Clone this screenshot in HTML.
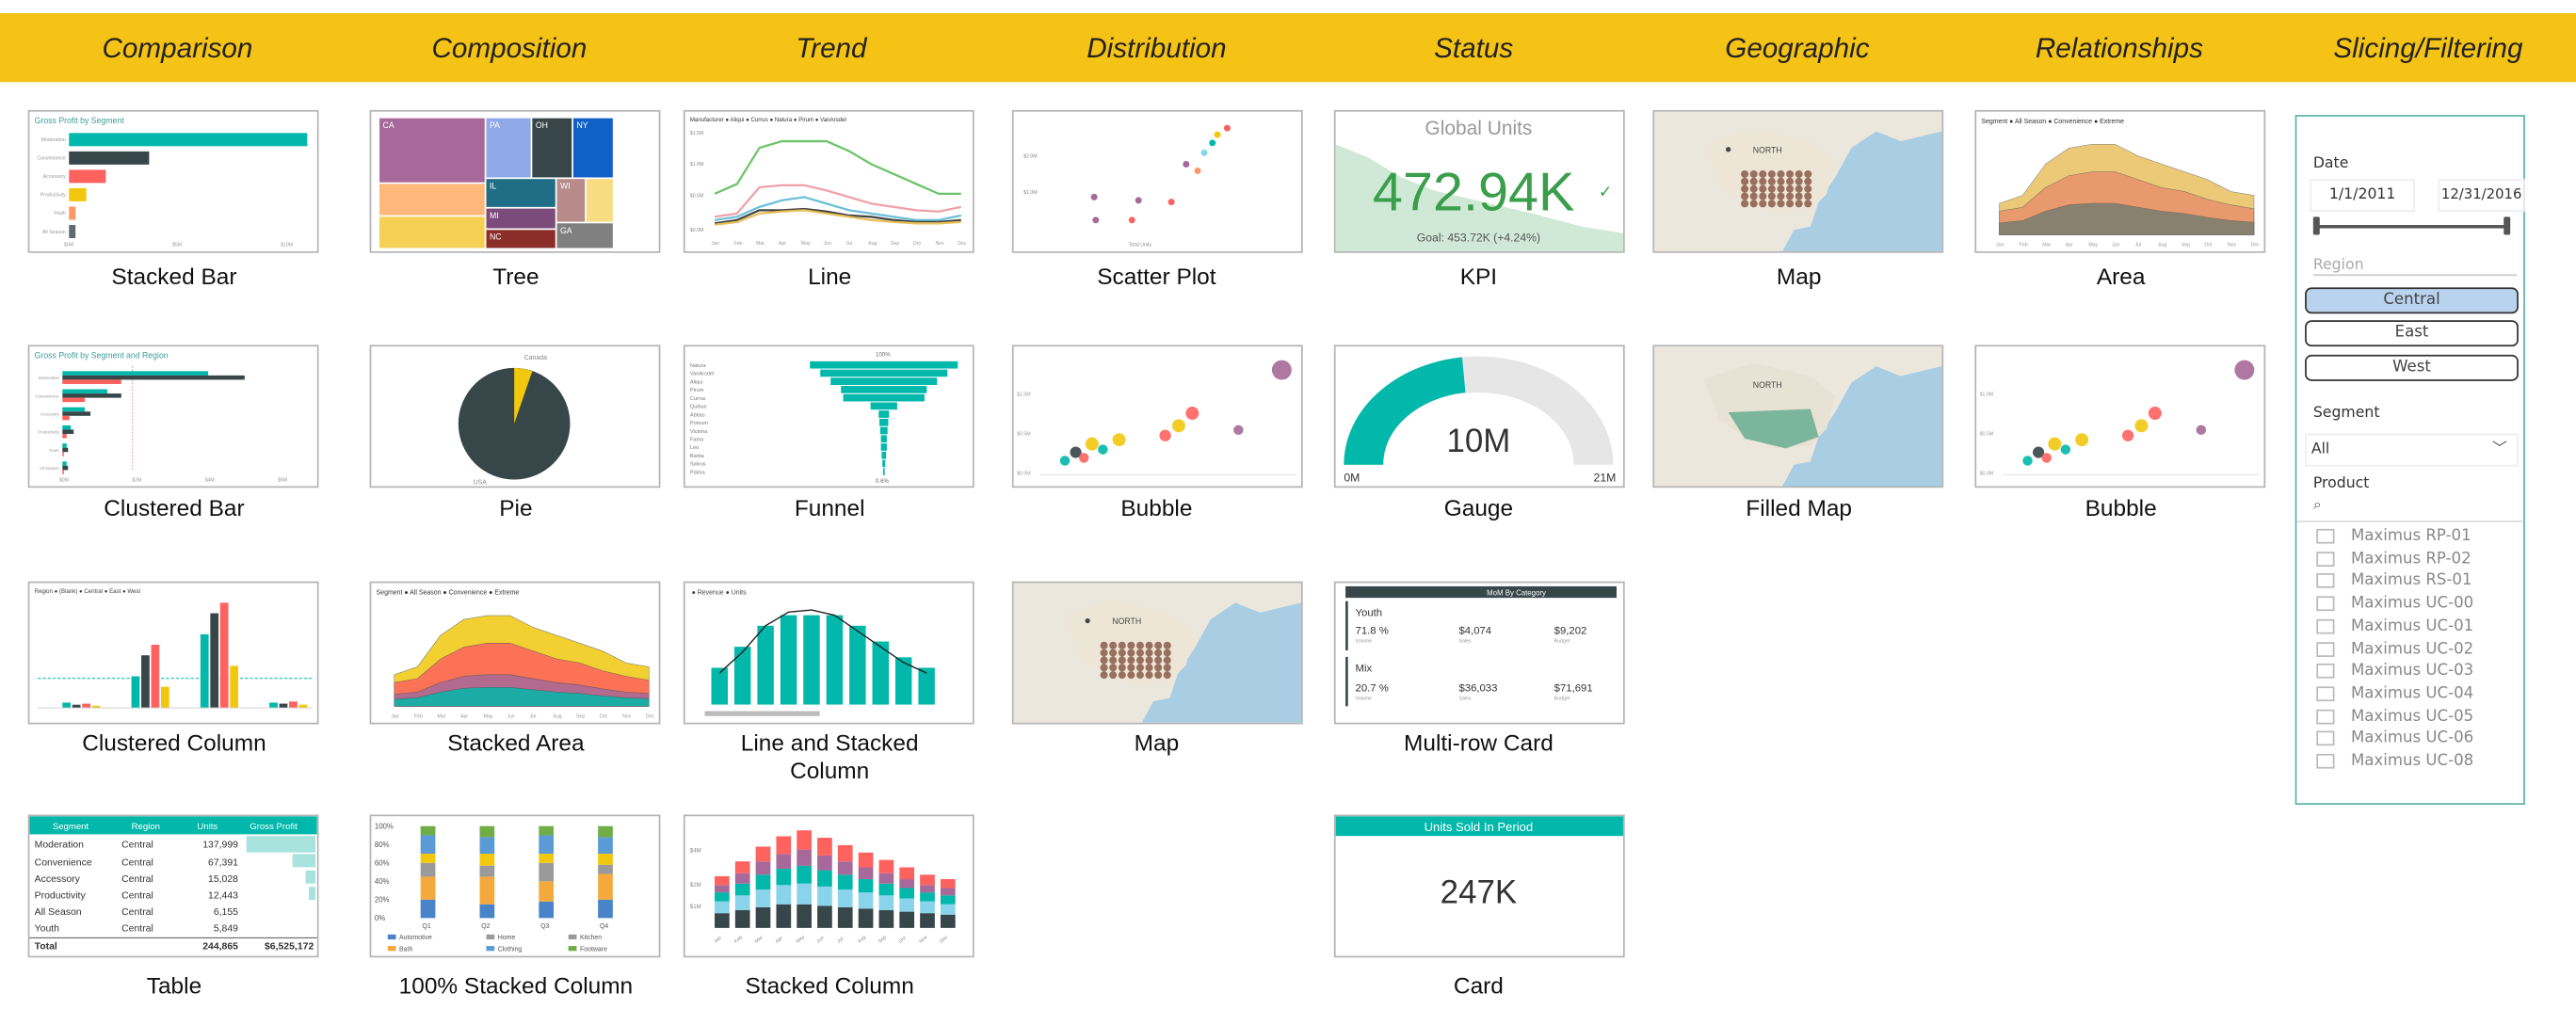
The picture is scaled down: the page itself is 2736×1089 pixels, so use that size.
<!DOCTYPE html>
<html><head><meta charset="utf-8">
<style>
html,body{margin:0;padding:0;background:#fff;}
body{width:2736px;height:1089px;overflow:hidden;position:relative;font-family:"Liberation Sans","DejaVu Sans",sans-serif;}
#stage{position:absolute;left:0;top:0;width:1568px;height:624px;transform:scale(1.7449);transform-origin:0 0;}
.hdr{position:absolute;left:0;top:8px;width:1568px;height:42px;background:#F5C316;}
.ht{position:absolute;top:8px;height:42px;line-height:44px;font-style:italic;font-size:17px;color:#222;transform:translateX(-50%);white-space:nowrap;}
.th{position:absolute;width:175px;height:85px;border:1.5px solid #b5b5b5;background:#fff;box-sizing:content-box;}
.th svg{display:block;width:175px;height:85px;}
.lb{position:absolute;font-size:14px;color:#111;transform:translateX(-50%);white-space:nowrap;text-align:center;line-height:17px;}
#slicer{position:absolute;left:1397px;top:70px;width:140px;height:420px;border:1.5px solid #5fb3a8;box-sizing:border-box;background:#fff;font-family:"DejaVu Sans",sans-serif;}
#slicer .t{position:absolute;font-size:9px;color:#333;}
.btn{position:absolute;left:5px;width:128px;height:14px;border:1.2px solid #333;border-radius:4px;font-size:9.5px;color:#444;text-align:center;line-height:14px;}
.it{position:absolute;left:12px;font-size:9.5px;color:#888;white-space:nowrap;}
.it i{display:inline-block;width:9px;height:7px;border:1px solid #bbb;margin-right:10px;vertical-align:middle;}
</style></head>
<body>
<div id="stage">
<div class="hdr"></div>
<div class="ht" style="left:108px">Comparison</div>
<div class="ht" style="left:310px">Composition</div>
<div class="ht" style="left:506px">Trend</div>
<div class="ht" style="left:704px">Distribution</div>
<div class="ht" style="left:897px">Status</div>
<div class="ht" style="left:1094px">Geographic</div>
<div class="ht" style="left:1290px">Relationships</div>
<div class="ht" style="left:1478px">Slicing/Filtering</div>

<div class="th" style="left:17px;top:67px"><svg id="sb" viewBox="0 0 175 85"><text x="3" y="7" font-size="5" fill="#3a9d96">Gross Profit by Segment</text></svg></div>
<div class="lb" style="left:106px;top:160px">Stacked Bar</div>

<div class="th" style="left:225px;top:67px"><svg viewBox="0 0 175 85">
<rect x="5" y="4" width="64" height="39" fill="#A66999"/><rect x="70" y="4" width="27" height="36" fill="#8FA8E8"/><rect x="98" y="4" width="24" height="36" fill="#374649"/><rect x="123" y="4" width="24" height="36" fill="#1160C8"/>
<rect x="5" y="44" width="64" height="19" fill="#FDB87A"/><rect x="5" y="64" width="64" height="19" fill="#F6CF55"/>
<rect x="70" y="41" width="42" height="17" fill="#1F6E86"/><rect x="70" y="59" width="42" height="12" fill="#7B4B7B"/><rect x="70" y="72" width="42" height="11" fill="#8B2E2A"/>
<rect x="113" y="41" width="17" height="26" fill="#B88A8A"/><rect x="131" y="41" width="16" height="26" fill="#F7DC80"/><rect x="113" y="68" width="34" height="15" fill="#808080"/>
<g font-size="5" fill="#fff"><text x="7" y="10">CA</text><text x="72" y="10">PA</text><text x="100" y="10">OH</text><text x="125" y="10">NY</text><text x="72" y="47">IL</text><text x="72" y="65">MI</text><text x="72" y="78">NC</text><text x="115" y="47">WI</text><text x="115" y="74">GA</text></g></svg></div>
<div class="lb" style="left:314px;top:160px">Tree</div>

<div class="th" style="left:416px;top:67px"><svg id="ln" viewBox="0 0 175 85"><text x="3" y="6" font-size="3.5" fill="#333">Manufacturer ● Aliqui ● Currus ● Natura ● Pirum ● VanArsdel</text>
<g font-size="3" fill="#888"><text x="3" y="14">$1.5M</text><text x="3" y="33">$1.0M</text><text x="3" y="52">$0.5M</text><text x="3" y="73">$0.0M</text></g></svg></div>
<div class="lb" style="left:505px;top:160px">Line</div>

<div class="th" style="left:616px;top:67px"><svg viewBox="0 0 175 85">
<g font-size="3" fill="#888"><text x="6" y="28">$2.0M</text><text x="6" y="50">$1.0M</text><text x="70" y="82">Total Units</text></g>
<circle cx="124" cy="14" r="2" fill="#F2C80F"/><circle cx="130" cy="10" r="2" fill="#FD625E"/><circle cx="121" cy="19" r="2" fill="#01B8AA"/><circle cx="116" cy="25" r="2" fill="#8AD4EB"/><circle cx="105" cy="32" r="2" fill="#A66999"/><circle cx="112" cy="36" r="2" fill="#FE9666"/><circle cx="96" cy="55" r="2" fill="#FD625E"/><circle cx="76" cy="54" r="2" fill="#A66999"/><circle cx="49" cy="52" r="2" fill="#A66999"/><circle cx="50" cy="66" r="2" fill="#A66999"/><circle cx="72" cy="66" r="2" fill="#FD625E"/></svg></div>
<div class="lb" style="left:704px;top:160px">Scatter Plot</div>

<div class="th" style="left:812px;top:67px"><svg viewBox="0 0 175 85">
<path d="M0 20 L20 28 L40 40 L60 48 L90 55 L120 62 L150 70 L175 74 L175 85 L0 85Z" fill="#cfe9d6"/>
<text x="87" y="14" font-size="12" fill="#999" text-anchor="middle">Global Units</text>
<text x="84" y="60" font-size="33" fill="#3a9e4a" text-anchor="middle">472.94K</text><text x="160" y="52" font-size="10" fill="#3a9e4a">✓</text>
<text x="87" y="79" font-size="7" fill="#555" text-anchor="middle">Goal: 453.72K (+4.24%)</text></svg></div>
<div class="lb" style="left:900px;top:160px">KPI</div>

<div class="th" style="left:1006px;top:67px"><svg viewBox="0 0 175 85" id="map1"></svg></div>
<div class="lb" style="left:1095px;top:160px">Map</div>

<div class="th" style="left:1202px;top:67px"><svg viewBox="0 0 175 85" id="ar1"></svg></div>
<div class="lb" style="left:1291px;top:160px">Area</div>

<div class="th" style="left:17px;top:210px"><svg id="cb" viewBox="0 0 175 85"><text x="3" y="7" font-size="5" fill="#3a9d96">Gross Profit by Segment and Region</text></svg></div>
<div class="lb" style="left:106px;top:301px">Clustered Bar</div>

<div class="th" style="left:225px;top:210px"><svg viewBox="0 0 175 85">
<circle cx="87" cy="47" r="34" fill="#374649"/><path d="M87 47 L87 13 A34 34 0 0 1 98 15 Z" fill="#F2C80F"/>
<text x="93" y="8" font-size="4" fill="#888">Canada</text><text x="62" y="84" font-size="4" fill="#888">USA</text></svg></div>
<div class="lb" style="left:314px;top:301px">Pie</div>

<div class="th" style="left:416px;top:210px"><svg id="fn" viewBox="0 0 175 85"><text x="116" y="6" font-size="3.5" fill="#666">100%</text><text x="116" y="83" font-size="3.5" fill="#666">0.6%</text></svg></div>
<div class="lb" style="left:505px;top:301px">Funnel</div>

<div class="th" style="left:616px;top:210px"><svg viewBox="0 0 175 85" class="bub"></svg></div>
<div class="lb" style="left:704px;top:301px">Bubble</div>

<div class="th" style="left:812px;top:210px"><svg viewBox="0 0 175 85">
<path d="M5 72 A82 66 0 0 1 169 72 L145 72 A58 44 0 0 0 29 72Z" fill="#e6e6e6"/>
<path d="M5 72 A82 66 0 0 1 77 6.5 L79 28 A58 44 0 0 0 29 72Z" fill="#01B8AA"/>
<text x="87" y="64" font-size="20" fill="#333" text-anchor="middle">10M</text>
<text x="5" y="82" font-size="7" fill="#333">0M</text><text x="157" y="82" font-size="7" fill="#333">21M</text></svg></div>
<div class="lb" style="left:900px;top:301px">Gauge</div>

<div class="th" style="left:1006px;top:210px"><svg viewBox="0 0 175 85" id="map2"></svg></div>
<div class="lb" style="left:1095px;top:301px">Filled Map</div>

<div class="th" style="left:1202px;top:210px"><svg viewBox="0 0 175 85" class="bub"></svg></div>
<div class="lb" style="left:1291px;top:301px">Bubble</div>

<div class="th" style="left:17px;top:354px"><svg id="cc" viewBox="0 0 175 85"><text x="3" y="6" font-size="3.5" fill="#444">Region ● (Blank) ● Central ● East ● West</text></svg></div>
<div class="lb" style="left:106px;top:444px">Clustered Column</div>

<div class="th" style="left:225px;top:354px"><svg viewBox="0 0 175 85" id="ar2"></svg></div>
<div class="lb" style="left:314px;top:444px">Stacked Area</div>

<div class="th" style="left:416px;top:354px"><svg id="lsc" viewBox="0 0 175 85"><text x="4" y="7" font-size="4" fill="#444">● Revenue ● Units</text><rect x="12" y="78" width="70" height="3" fill="#bbb"/></svg></div>
<div class="lb" style="left:505px;top:444px">Line and Stacked<br>Column</div>

<div class="th" style="left:616px;top:354px"><svg viewBox="0 0 175 85" id="map3"></svg></div>
<div class="lb" style="left:704px;top:444px">Map</div>

<div class="th" style="left:812px;top:354px"><svg viewBox="0 0 175 85">
<rect x="6" y="2" width="165" height="7" fill="#374649"/><text x="110" y="7.5" font-size="4.5" fill="#fff" text-anchor="middle">MoM By Category</text>
<rect x="6" y="11" width="1.5" height="30" fill="#374649"/><rect x="6" y="45" width="1.5" height="30" fill="#374649"/>
<g font-size="6.5" fill="#333"><text x="12" y="20">Youth</text><text x="12" y="31">71.8 %</text><text x="75" y="31">$4,074</text><text x="133" y="31">$9,202</text>
<text x="12" y="54">Mix</text><text x="12" y="66">20.7 %</text><text x="75" y="66">$36,033</text><text x="133" y="66">$71,691</text></g>
<g font-size="3" fill="#999"><text x="12" y="36">Volume</text><text x="75" y="36">Sales</text><text x="133" y="36">Budget</text><text x="12" y="71">Volume</text><text x="75" y="71">Sales</text><text x="133" y="71">Budget</text></g></svg></div>
<div class="lb" style="left:900px;top:444px">Multi-row Card</div>

<div class="th" style="left:17px;top:496px"><svg viewBox="0 0 175 85">
<rect x="0" y="0" width="175" height="11" fill="#01B8AA"/>
<g font-size="5.5" fill="#fff"><text x="14" y="8">Segment</text><text x="62" y="8">Region</text><text x="102" y="8">Units</text><text x="134" y="8">Gross Profit</text></g>
<rect x="132" y="12" width="42" height="10" fill="#a8e3de"/><rect x="160" y="23" width="14" height="8" fill="#a8e3de"/><rect x="168" y="33" width="6" height="8" fill="#a8e3de"/><rect x="170" y="43" width="4" height="8" fill="#a8e3de"/>
<g font-size="6" fill="#333"><text x="3" y="19">Moderation</text><text x="3" y="30">Convenience</text><text x="3" y="40">Accessory</text><text x="3" y="50">Productivity</text><text x="3" y="60">All Season</text><text x="3" y="70">Youth</text>
<text x="56" y="19">Central</text><text x="56" y="30">Central</text><text x="56" y="40">Central</text><text x="56" y="50">Central</text><text x="56" y="60">Central</text><text x="56" y="70">Central</text>
<g text-anchor="end"><text x="127" y="19">137,999</text><text x="127" y="30">67,391</text><text x="127" y="40">15,028</text><text x="127" y="50">12,443</text><text x="127" y="60">6,155</text><text x="127" y="70">5,849</text></g>
<g font-weight="bold"><text x="3" y="81">Total</text><text x="127" y="81" text-anchor="end">244,865</text><text x="173" y="81" text-anchor="end">$6,525,172</text></g></g>
<line x1="0" y1="74" x2="175" y2="74" stroke="#555" stroke-width="0.6"/></svg></div>
<div class="lb" style="left:106px;top:592px">Table</div>

<div class="th" style="left:225px;top:496px"><svg id="s100" viewBox="0 0 175 85"></svg></div>
<div class="lb" style="left:314px;top:592px">100% Stacked Column</div>

<div class="th" style="left:416px;top:496px"><svg id="sc" viewBox="0 0 175 85"></svg></div>
<div class="lb" style="left:505px;top:592px">Stacked Column</div>

<div class="th" style="left:812px;top:496px"><svg viewBox="0 0 175 85">
<rect x="0" y="0" width="175" height="12" fill="#01B8AA"/><text x="87" y="9" font-size="7.5" fill="#fff" text-anchor="middle">Units Sold In Period</text>
<text x="87" y="53" font-size="20" fill="#333" text-anchor="middle">247K</text></svg></div>
<div class="lb" style="left:900px;top:592px">Card</div>

<div id="slicer">
<div class="t" style="left:10px;top:24px">Date</div>
<div class="t" style="left:8px;top:38px;width:62px;height:18px;border:1px solid #eee;line-height:18px;text-align:center">1/1/2011</div>
<div class="t" style="left:86px;top:38px;width:51px;height:18px;border:1px solid #eee;line-height:18px;text-align:center;font-size:8.5px">12/31/2016</div>
<div style="position:absolute;left:12px;top:66px;width:116px;height:2px;background:#555"></div>
<div style="position:absolute;left:10px;top:61px;width:4px;height:11px;background:#555;border-radius:1px"></div>
<div style="position:absolute;left:126px;top:61px;width:4px;height:11px;background:#555;border-radius:1px"></div>
<div class="t" style="left:10px;top:86px;color:#aaa;border-bottom:1px solid #ccc;width:124px">Region</div>
<div class="btn" style="top:104px;background:#b9d3ee">Central</div>
<div class="btn" style="top:124px">East</div>
<div class="btn" style="top:145px">West</div>
<div class="t" style="left:10px;top:176px">Segment</div>
<div class="t" style="left:5px;top:193px;width:128px;height:18px;border:1px solid #eee;line-height:18px">&nbsp;All<span style="position:absolute;right:6px;color:#555">﹀</span></div>
<div class="t" style="left:10px;top:219px">Product</div>
<div class="t" style="left:10px;top:232px;color:#555">⌕</div>
<div style="position:absolute;left:0;top:246px;width:138px;height:1px;background:#ddd"></div>
<div id="items"></div>
</div>
</div>
<script>
const NS='http://www.w3.org/2000/svg';
function mk(parent,tag,attrs){const e=document.createElementNS(NS,tag);for(const k in attrs)e.setAttribute(k,attrs[k]);parent.appendChild(e);return e;}

const sbCats=['Moderation','Convenience','Accessory','Productivity','Youth','All Season'];
const sbVals=[11.0,3.7,1.7,0.8,0.3,0.3];
const sbColors=['#01B8AA','#374649','#FD625E','#F2C80F','#FE9666','#5F6B6D'];
const sbTicks=['$0M','$5M','$10M'];
(function(){const s=document.getElementById('sb');const x=v=>24+v*(145/11.0);
sbCats.forEach((c,i)=>{const y=13+i*11.2;
const r=mk(s,'rect',{x:24,y:y,width:x(sbVals[i])-24,height:8,fill:sbColors[i]});


mk(s,'text',{x:22,y:y+5,'font-size':3,fill:'#999','text-anchor':'end'}).textContent=c;});
sbTicks.forEach((t,i)=>{mk(s,'text',{x:x(i*5)-3,y:82,'font-size':3,fill:'#999'}).textContent=t;});})();

const months=['Jan','Feb','Mar','Apr','May','Jun','Jul','Aug','Sep','Oct','Nov','Dec'];
const lnSeries=[[0.55,0.7,1.25,1.35,1.35,1.35,1.2,1.0,0.85,0.7,0.55,0.55],[0.2,0.25,0.65,0.68,0.68,0.6,0.5,0.4,0.35,0.3,0.28,0.35],[0.15,0.2,0.35,0.45,0.5,0.4,0.3,0.25,0.2,0.15,0.15,0.22],[0.1,0.15,0.3,0.3,0.32,0.28,0.22,0.2,0.15,0.12,0.12,0.15],[0.08,0.12,0.25,0.28,0.3,0.25,0.2,0.15,0.12,0.1,0.1,0.12]];
const lnColors=['#6cc46a','#f0a0a8','#6cc0d8','#444','#e8c05a'];
(function(){const s=document.getElementById('ln');const x=i=>18+i*(150/11),y=v=>72-v*40;
lnSeries.forEach((ser,k)=>{const p=mk(s,'polyline',{points:ser.map((v,i)=>x(i)+','+y(v)).join(' '),fill:'none',stroke:lnColors[k],'stroke-width':1.3});

});
months.forEach((m,i)=>{mk(s,'text',{x:x(i)-2,y:81,'font-size':3,fill:'#999'}).textContent=m;});})();

const cbCats=['Moderation','Convenience','Accessory','Productivity','Youth','All Season'];
const cbTeal=[5.2,1.6,0.8,0.3,0.15,0.15];
const cbDark=[6.5,2.1,1.0,0.4,0.2,0.2];
const cbRed=[2.1,0.8,0.25,0.15,0.05,0.05];
(function(){const s=document.getElementById('cb');const x=v=>20+v*(145/8.5);
mk(s,'line',{x1:x(2.5),y1:12,x2:x(2.5),y2:76,stroke:'#d88','stroke-dasharray':'1,1','stroke-width':0.5});
cbCats.forEach((c,i)=>{const y=15+i*11;[[cbTeal,'#01B8AA'],[cbDark,'#374649'],[cbRed,'#FD625E']].forEach((a,j)=>{
const r=mk(s,'rect',{x:20,y:y+j*2.6,width:x(a[0][i])-20,height:2.6,fill:a[1]});

});
mk(s,'text',{x:18,y:y+5,'font-size':2.5,fill:'#999','text-anchor':'end'}).textContent=c;});
['$0M','$2M','$4M','$6M'].forEach((t,i)=>mk(s,'text',{x:x(i*2.6)-2,y:82,'font-size':3,fill:'#999'}).textContent=t);})();

const fnCats=['Natura','VanArsdel','Aliqui','Pirum','Currus','Quibus','Abbas','Pomum','Victoria','Fama','Leo','Barba','Salvus','Palma'];
const fnVals=[100,86,72,58,55,18,7,6,5,4,4,3,2,1];
(function(){const s=document.getElementById('fn');const cx=121;
fnCats.forEach((c,i)=>{const w=Math.max(1,fnVals[i]*0.9);const y=9+i*5;
const r=mk(s,'rect',{x:cx-w/2,y:y,width:w,height:4.4,fill:'#01B8AA'});


mk(s,'text',{x:3,y:y+3.5,'font-size':3.2,fill:'#777'}).textContent=c;});})();

const bubX=[8,12,15,18,22,28,45,50,55,72,88];
const bubY=[10,16,12,22,18,25,28,35,44,32,75];
const bubR=[3,3.5,3,4,3,4,3.5,4,4,3,6];
const bubC=['#01B8AA','#374649','#FD625E','#F2C80F','#01B8AA','#F2C80F','#FD625E','#F2C80F','#FD625E','#A66999','#A66999'];
document.querySelectorAll('.bub').forEach(s=>{const x=v=>18+v*1.65,y=v=>78-v*0.85;
mk(s,'line',{x1:16,y1:78,x2:172,y2:78,stroke:'#ddd','stroke-width':0.5});
['$1.0M','$0.5M','$0.0M'].forEach((t,i)=>mk(s,'text',{x:2,y:30+i*24,'font-size':3,fill:'#999'}).textContent=t);
bubX.forEach((v,i)=>{const c=mk(s,'circle',{cx:x(v),cy:y(bubY[i]),r:bubR[i],fill:bubC[i],opacity:0.9});

});});

function drawMap(id,filled){const s=document.getElementById(id);
mk(s,'rect',{x:0,y:0,width:175,height:85,fill:'#a9cde3'});
mk(s,'path',{d:'M0 0 L175 0 L175 12 L150 18 L135 12 L120 22 L110 40 L100 55 L95 70 L85 72 L78 85 L0 85 Z',fill:'#ece7dc'});
mk(s,'path',{d:'M30 20 L60 10 L95 18 L110 30 L105 50 L95 60 L75 62 L55 55 L40 45 Z',fill:filled?'#e8e2d4':'#ede6d6'});
mk(s,'text',{x:60,y:25,'font-size':5,fill:'#444'}).textContent='NORTH';
if(filled){mk(s,'path',{d:'M45 40 L95 38 L100 55 L80 62 L55 56Z',fill:'#7bb69c'});}
else{for(let i=0;i<40;i++){const cx=55+(i%8)*5.5,cy=38+Math.floor(i/8)*4.5;mk(s,'circle',{cx:cx,cy:cy,r:2.3,fill:'#8a5a4a',opacity:0.85});}
mk(s,'circle',{cx:45,cy:23,r:1.5,fill:'#444'});}}
drawMap('map1',false);drawMap('map2',true);drawMap('map3',false);

const arA=[0.4,0.5,0.9,1.1,1.15,1.15,1.0,0.9,0.8,0.7,0.55,0.5];
const arB=[0.3,0.35,0.6,0.75,0.8,0.8,0.7,0.6,0.55,0.45,0.38,0.33];
const arC=[0.15,0.18,0.3,0.38,0.4,0.4,0.35,0.3,0.27,0.22,0.18,0.16];
function drawArea(id,stacked){const s=document.getElementById(id);const x=i=>14+i*(155/11),y=v=>75-v*48;
mk(s,'text',{x:3,y:7,'font-size':4,fill:'#333'}).textContent='Segment ● All Season ● Convenience ● Extreme';
const layers=stacked?[[arA,'#F2C80F'],[arB,'#FD625E'],[arC,'#A66999'],[arC.map(v=>v*0.6),'#01B8AA']]:[[arA,'#e5b74a'],[arB,'#e8896a'],[arC,'#6a7a70']];
layers.forEach((L,k)=>{const pts=L[0].map((v,i)=>x(i)+','+y(v)).join(' ');
const p=mk(s,'polygon',{points:x(0)+',75 '+pts+' '+x(11)+',75',fill:L[1],opacity:stacked?0.85:0.75,stroke:'#555','stroke-width':0.3});

});
months.forEach((m,i)=>mk(s,'text',{x:x(i)-2,y:82,'font-size':3,fill:'#999'}).textContent=m);}
drawArea('ar1',false);drawArea('ar2',true);

const ccGroups=['Blank','Central','East','West'];
const ccTeal=[0.05,0.3,0.7,0.05];
const ccDark=[0.03,0.5,0.9,0.04];
const ccRed=[0.04,0.6,1.0,0.06];
const ccYellow=[0.02,0.2,0.4,0.03];
(function(){const s=document.getElementById('cc');const y=v=>76-v*64;
mk(s,'line',{x1:5,y1:y(0.28),x2:172,y2:y(0.28),stroke:'#01B8AA','stroke-dasharray':'2,1','stroke-width':0.6});
ccGroups.forEach((g,i)=>{const gx=20+i*42;[[ccTeal,'#01B8AA'],[ccDark,'#374649'],[ccRed,'#FD625E'],[ccYellow,'#F2C80F']].forEach((a,j)=>{
const r=mk(s,'rect',{x:gx+j*6,y:y(a[0][i]),width:5,height:76-y(a[0][i]),fill:a[1]});

});});
mk(s,'line',{x1:5,y1:76,x2:172,y2:76,stroke:'#ccc','stroke-width':0.5});})();

const lscVals=[0.35,0.55,0.75,0.85,0.85,0.85,0.75,0.6,0.45,0.35];
const lscLine=[0.3,0.5,0.75,0.88,0.9,0.85,0.7,0.55,0.4,0.3];
(function(){const s=document.getElementById('lsc');const x=i=>16+i*14,y=v=>74-v*64;
lscVals.forEach((v,i)=>{const r=mk(s,'rect',{x:x(i),y:y(v),width:10,height:74-y(v),fill:'#01B8AA'});

});
const p=mk(s,'polyline',{points:lscLine.map((v,i)=>(x(i)+5)+','+y(v)).join(' '),fill:'none',stroke:'#222','stroke-width':0.8});

})();

const s100Cats=['Q1','Q2','Q3','Q4'];
const s100Series=[[20,15,18,20],[25,30,22,28],[15,12,20,10],[10,13,10,12],[20,18,20,18],[10,12,10,12]];
const s100Colors=['#4a84c8','#f3a93b','#9a9a9a','#f2c80f','#5b9bd5','#70ad47'];
(function(){const s=document.getElementById('s100');const y=v=>62-v*0.56;
['100%','80%','60%','40%','20%','0%'].forEach((t,i)=>mk(s,'text',{x:2,y:y(100-i*20)+1.5,'font-size':4.5,fill:'#555'}).textContent=t);
s100Cats.forEach((c,i)=>{let acc=0;s100Series.forEach((ser,k)=>{const r=mk(s,'rect',{x:30+i*36,y:y(acc+ser[i]),width:9,height:ser[i]*0.56,fill:s100Colors[k]});

acc+=ser[i];});
mk(s,'text',{x:31+i*36,y:68,'font-size':4,fill:'#555'}).textContent=c;});
[['Automotive',10,'#4a84c8'],['Home',70,'#9a9a9a'],['Kitchen',120,'#9a9a9a'],['Bath',10,'#f3a93b'],['Clothing',70,'#5b9bd5'],['Footware',120,'#70ad47']].forEach((l,i)=>{
const yy=i<3?75:82;mk(s,'rect',{x:l[1],y:yy-3,width:5,height:3,fill:l[2]});mk(s,'text',{x:l[1]+7,y:yy,'font-size':4,fill:'#555'}).textContent=l[0];});})();

const scMonths=['Jan','Feb','Mar','Apr','May','Jun','Jul','Aug','Sep','Oct','Nov','Dec'];
const scA=[10,12,14,16,16,15,14,13,12,11,10,9];
const scB=[8,10,12,13,14,13,12,11,10,9,8,7];
const scC=[6,8,10,11,12,11,10,9,8,7,6,6];
const scD=[5,7,9,10,11,10,9,8,7,6,5,5];
const scE=[6,8,10,12,13,12,11,10,9,8,7,6];
(function(){const s=document.getElementById('sc');const y=v=>68-v*0.9;const cols=['#374649','#8AD4EB','#01B8AA','#A66999','#FD625E'];
['$4M','$2M','$1M'].forEach((t,i)=>mk(s,'text',{x:3,y:[22,43,56][i],'font-size':3.5,fill:'#888'}).textContent=t);
scMonths.forEach((m,i)=>{let acc=0;[scA,scB,scC,scD,scE].forEach((ser,k)=>{const r=mk(s,'rect',{x:18+i*12.5,y:y(acc+ser[i]),width:9,height:ser[i]*0.9,fill:cols[k]});

acc+=ser[i];});
mk(s,'text',{x:18+i*12.5,y:76,'font-size':3,fill:'#888',transform:'rotate(-40 '+(20+i*12.5)+' 76)'}).textContent=m;});})();

const products=['Maximus RP-01','Maximus RP-02','Maximus RS-01','Maximus UC-00','Maximus UC-01','Maximus UC-02','Maximus UC-03','Maximus UC-04','Maximus UC-05','Maximus UC-06','Maximus UC-08'];
const items=document.getElementById('items');
products.forEach((p,i)=>{const d=document.createElement('div');d.className='it';d.style.top=(250+i*13.7)+'px';d.innerHTML='<i></i>'+p;


items.appendChild(d);});
</script>
</body></html>
